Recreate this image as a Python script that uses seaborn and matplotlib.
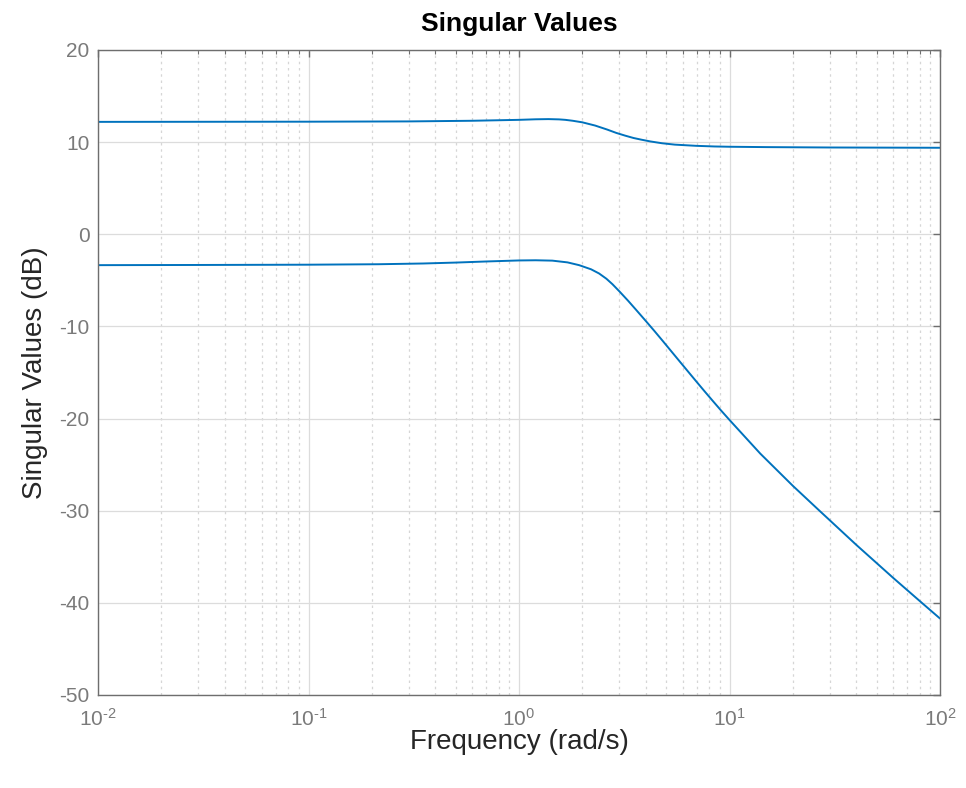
import numpy as np
import pandas as pd
import matplotlib
matplotlib.use("Agg")
import matplotlib.pyplot as plt
from matplotlib.ticker import LogLocator, NullFormatter, FuncFormatter
import seaborn as sns

# ── Data (frequency in rad/s, singular values in dB) ──
freq_sv1 = [0.01, 0.1, 0.3, 0.6, 1.0, 1.2, 1.38, 1.55, 1.66, 1.8, 2.0, 2.3,
            2.62, 2.9, 3.2, 3.5, 3.81, 4.2, 4.78, 5.5, 6.95, 8.5, 10, 15,
            30, 100]
sv1_db = [12.2, 12.22, 12.25, 12.32, 12.42, 12.48, 12.5, 12.47, 12.42,
          12.32, 12.15, 11.8, 11.37, 11.0, 10.7, 10.45, 10.27, 10.08, 9.88,
          9.73, 9.6, 9.53, 9.5, 9.46, 9.42, 9.39]

freq_sv2 = [0.01, 0.03, 0.1, 0.215, 0.35, 0.5, 0.7, 1.0, 1.2, 1.44, 1.7,
            1.93, 2.2, 2.4, 2.6, 2.78, 3.0, 3.3, 3.6, 4.0, 4.4, 4.8, 5.3,
            5.78, 6.4, 7.0, 7.6, 8.34, 9.1, 10, 14, 20, 26.9, 40, 60, 82, 100]
sv2_db = [-3.35, -3.33, -3.3, -3.25, -3.17, -3.07, -2.95, -2.84, -2.82,
          -2.86, -3.05, -3.35, -3.8, -4.25, -4.82, -5.42, -6.2, -7.22, -8.2,
          -9.4, -10.5, -11.53, -12.72, -13.76, -14.98, -16.05, -17.02, -18.1,
          -19.1, -20.15, -23.8, -27.3, -30.05, -33.7, -37.3, -40.0, -41.7]

y_ticks = [-50, -40, -30, -20, -10, 0, 10, 20]

df = pd.concat([
    pd.DataFrame({"freq": freq_sv1, "db": sv1_db, "sv": "sv1"}),
    pd.DataFrame({"freq": freq_sv2, "db": sv2_db, "sv": "sv2"}),
])

# ── Style ─────────────────────────────────────────────────────────────────────
sns.set_theme(style="white")
plt.rcParams["font.family"] = ["Liberation Sans", "DejaVu Sans"]
plt.rcParams["mathtext.fontset"] = "custom"
plt.rcParams["mathtext.rm"] = "Liberation Sans"
plt.rcParams["mathtext.it"] = "Liberation Sans"
plt.rcParams["mathtext.default"] = "regular"
plt.rcParams["axes.unicode_minus"] = False

LINE_BLUE = "#0072BD"
AX_GRAY = "#6e6e6e"
TICK_GRAY = "#7a7a7a"


def pow10_label(v, pos):
    # MATLAB style: plain hyphen in the exponent
    e = int(round(np.log10(v)))
    exp = str(e).replace("-", "\u2010")
    return f"$10^{{{exp}}}$"


fig = plt.figure(figsize=(9.66, 7.88), dpi=100)
ax = fig.add_axes([98 / 966, 93 / 788, 842 / 966, 645 / 788])

sns.lineplot(data=df, x="freq", y="db", hue="sv", units="sv",
             estimator=None, sort=False,
             palette=[LINE_BLUE, LINE_BLUE], lw=1.4, legend=False, ax=ax)

ax.set_xscale("log")
ax.set_xlim(1e-2, 1e2)
ax.set_ylim(-50, 20)
ax.set_yticks(y_ticks)
ax.xaxis.set_major_locator(LogLocator(base=10, numticks=10))
ax.xaxis.set_major_formatter(FuncFormatter(pow10_label))
ax.xaxis.set_minor_locator(LogLocator(base=10, subs=np.arange(2, 10), numticks=50))
ax.xaxis.set_minor_formatter(NullFormatter())

# Grid: solid major, dotted minor (x only)
ax.grid(which="major", axis="both", color="#dcdcdc", lw=0.9, ls="-")
ax.grid(which="minor", axis="x", color="#d6d6d6", lw=0.9, ls=(0, (2, 3)))
ax.set_axisbelow(True)

for side in ["left", "right", "top", "bottom"]:
    ax.spines[side].set_visible(True)
    ax.spines[side].set_color(AX_GRAY)
    ax.spines[side].set_linewidth(1.0)

ax.tick_params(which="both", direction="in", top=True, right=True,
               color=AX_GRAY, labelcolor=TICK_GRAY, labelsize=15)
ax.tick_params(which="major", length=5, width=1.0, pad=6)
ax.tick_params(which="minor", length=3, width=0.8)
ax.tick_params(axis="x", which="major", pad=9)

ax.set_xlabel("Frequency (rad/s)", fontsize=20, color="#262626", labelpad=0)
ax.set_ylabel("Singular Values (dB)", fontsize=20, color="#262626", labelpad=8)
ax.set_title("Singular Values", fontsize=19, fontweight="bold", color="black", pad=14)

plt.savefig("out.png", dpi=100)
plt.close()
